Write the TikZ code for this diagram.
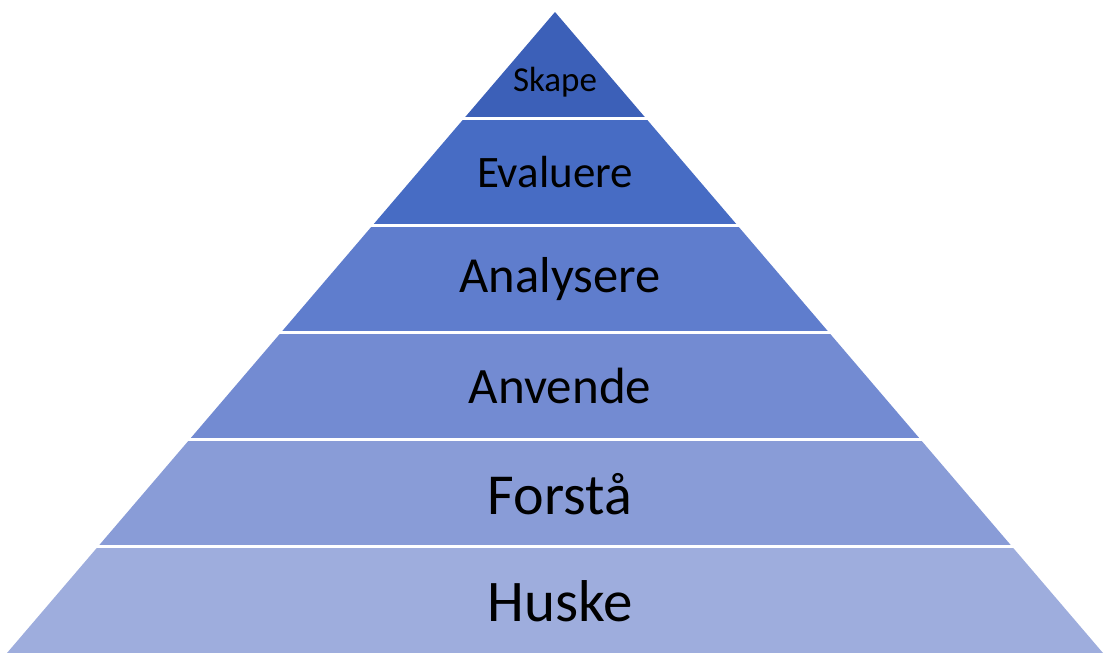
\documentclass[tikz,border=0pt]{standalone}
\usepackage{fontspec}
\setmainfont{Carlito}
\definecolor{c1}{RGB}{60,96,184}
\definecolor{c2}{RGB}{71,108,196}
\definecolor{c3}{RGB}{95,125,205}
\definecolor{c4}{RGB}{115,139,210}
\definecolor{c5}{RGB}{137,156,215}
\definecolor{c6}{RGB}{158,173,221}
\tikzset{
  sep/.style={white, line width=3pt},
  lbl/.style={text=black, inner sep=0pt, anchor=center}
}
\begin{document}
\begin{tikzpicture}[x=1pt,y=-1pt]
\useasboundingbox (0,0) rectangle (1104,653);
% layers
\fill[c1] (555,12) -- (646.3,118.8) -- (463.7,118.8) -- cycle;
\fill[c2] (463.7,118.8) -- (646.3,118.8) -- (737.7,225.7) -- (372.3,225.7) -- cycle;
\fill[c3] (372.3,225.7) -- (737.7,225.7) -- (829,332.5) -- (281,332.5) -- cycle;
\fill[c4] (281,332.5) -- (829,332.5) -- (920.3,439.3) -- (189.7,439.3) -- cycle;
\fill[c5] (189.7,439.3) -- (920.3,439.3) -- (1011.7,546.2) -- (98.3,546.2) -- cycle;
\fill[c6] (98.3,546.2) -- (1011.7,546.2) -- (1103,653) -- (7,653) -- cycle;
% separators
\draw[sep] (455,118.8) -- (655,118.8);
\draw[sep] (364,225.7) -- (746,225.7);
\draw[sep] (272,332.5) -- (838,332.5);
\draw[sep] (181,439.3) -- (929,439.3);
\draw[sep] (90,546.2) -- (1020,546.2);
% labels
\node[lbl, font=\fontsize{35}{40}\selectfont] (skape) at (555,82) {Skape};
\node[lbl, font=\fontsize{45}{50}\selectfont] (evaluere) at (555,172) {Evaluere};
\node[lbl, font=\fontsize{50.5}{56}\selectfont] (analysere) at (560,279) {Analysere};
\node[lbl, font=\fontsize{51}{56}\selectfont] (anvende) at (560,386) {Anvende};
\node[lbl, font=\fontsize{58}{64}\selectfont] (forsta) at (560,494) {Forstå};
\node[lbl, font=\fontsize{59}{64}\selectfont] (huske) at (560,601) {Huske};
\end{tikzpicture}
\end{document}
